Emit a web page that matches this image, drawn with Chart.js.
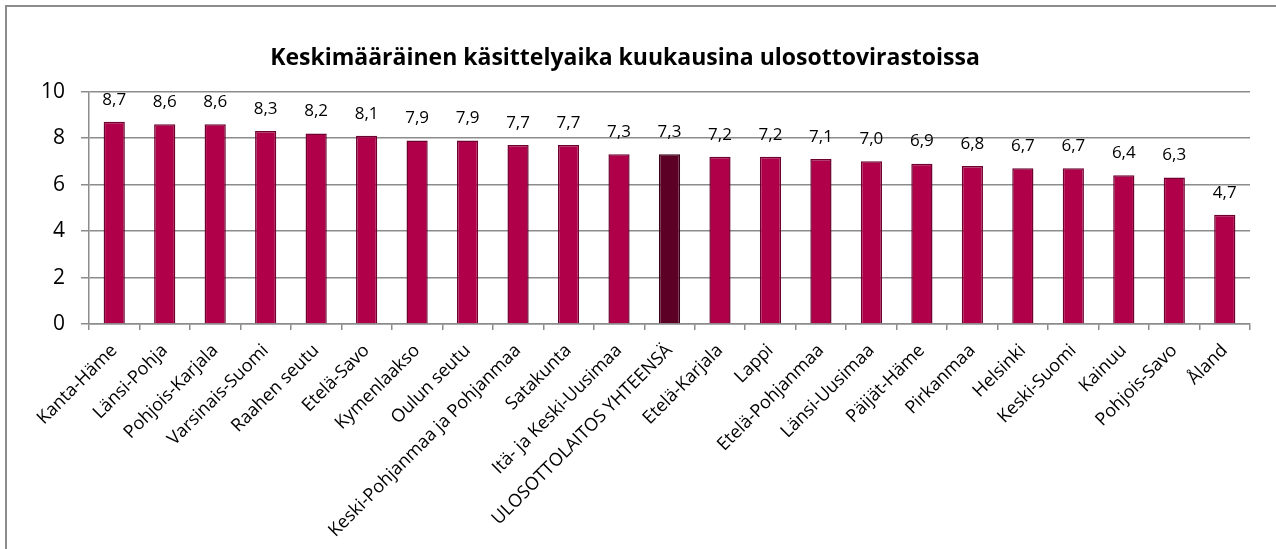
<!DOCTYPE html>
<html>
<head>
<meta charset="utf-8">
<script src="https://cdn.jsdelivr.net/npm/chart.js@4/dist/chart.umd.min.js"></script>
<style>
  html, body { margin: 0; padding: 0; background: #fff; overflow: hidden; }
  #frame { position: absolute; left: 5px; top: 5px; width: 1400px; height: 700px;
           border: 2px solid #8c8c8c; box-sizing: border-box; z-index: 0; }
  #wrap { position: absolute; left: 0; top: 0; width: 1276px; height: 549px; z-index: 1; }
</style>
</head>
<body>
<div id="frame"></div>
<div id="wrap"><canvas id="chart" width="1276" height="549"></canvas></div>
<script>
// Ulosottovirastot ja keskimääräinen käsittelyaika (kk)
const categories = [
  'Kanta-Häme', 'Länsi-Pohja', 'Pohjois-Karjala', 'Varsinais-Suomi', 'Raahen seutu',
  'Etelä-Savo', 'Kymenlaakso', 'Oulun seutu', 'Keski-Pohjanmaa ja Pohjanmaa', 'Satakunta',
  'Itä- ja Keski-Uusimaa', 'ULOSOTTOLAITOS YHTEENSÄ', 'Etelä-Karjala', 'Lappi',
  'Etelä-Pohjanmaa', 'Länsi-Uusimaa', 'Päijät-Häme', 'Pirkanmaa', 'Helsinki',
  'Keski-Suomi', 'Kainuu', 'Pohjois-Savo', 'Åland'
];
const months = [8.7, 8.6, 8.6, 8.3, 8.2, 8.1, 7.9, 7.9, 7.7, 7.7, 7.3, 7.3, 7.2, 7.2,
                7.1, 7.0, 6.9, 6.8, 6.7, 6.7, 6.4, 6.3, 4.7];
const yTicks = [0, 2, 4, 6, 8, 10];
const totalLabel = 'ULOSOTTOLAITOS YHTEENSÄ';

const FONT = '"Open Sans", sans-serif';
const barFill = categories.map(c => c === totalLabel ? '#5c0026' : '#b0004a');
const barEdge = categories.map(c => c === totalLabel ? '#3a0018' : '#6e0030');

// Arvot pylväiden yläpuolelle, desimaalipilkulla
const valueLabels = {
  id: 'valueLabels',
  afterDatasetsDraw(chart) {
    const ctx = chart.ctx;
    const meta = chart.getDatasetMeta(0);
    ctx.save();
    ctx.font = '17px ' + FONT;
    ctx.fillStyle = '#000';
    ctx.textAlign = 'center';
    ctx.textBaseline = 'middle';
    meta.data.forEach((bar, i) => {
      const v = chart.data.datasets[0].data[i];
      ctx.fillText(v.toFixed(1).replace('.', ','), bar.x, bar.y - 22);
    });
    ctx.restore();
  }
};

new Chart(document.getElementById('chart'), {
  type: 'bar',
  data: {
    labels: categories,
    datasets: [{
      data: months,
      backgroundColor: barFill,
      borderColor: barEdge,
      borderWidth: 1.5,
      barPercentage: 0.42,
      categoryPercentage: 1.0
    }]
  },
  options: {
    responsive: false,
    animation: false,
    layout: { padding: { left: 0, right: 26, top: 0, bottom: 0 } },
    plugins: {
      legend: { display: false },
      tooltip: { enabled: false },
      title: {
        display: true,
        text: 'Keskimääräinen käsittelyaika kuukausina ulosottovirastoissa',
        color: '#000',
        font: { family: FONT, size: 23, weight: 'bold', lineHeight: 1.2 },
        padding: { top: 45, bottom: 19 }
      }
    },
    scales: {
      x: {
        grid: { display: true, offset: true, drawOnChartArea: false, tickLength: 6,
                color: '#8c8c8c', lineWidth: 1.5 },
        border: { color: '#8c8c8c', width: 1.5 },
        ticks: {
          color: '#000', font: { family: FONT, size: 18 },
          minRotation: 45, maxRotation: 45, autoSkip: false, padding: 10
        },
        afterFit(scale) { scale.height = 549 - 324; }
      },
      y: {
        min: 0, max: 10,
        afterBuildTicks(scale) { scale.ticks = yTicks.map(v => ({ value: v })); },
        grid: { color: '#8c8c8c', lineWidth: 1.5, tickLength: 8 },
        border: { color: '#8c8c8c', width: 1.5 },
        ticks: { color: '#000', font: { family: FONT, size: 21 }, padding: 16 },
        afterFit(scale) { scale.width = 89; }
      }
    }
  },
  plugins: [valueLabels]
});
</script>
</body>
</html>
